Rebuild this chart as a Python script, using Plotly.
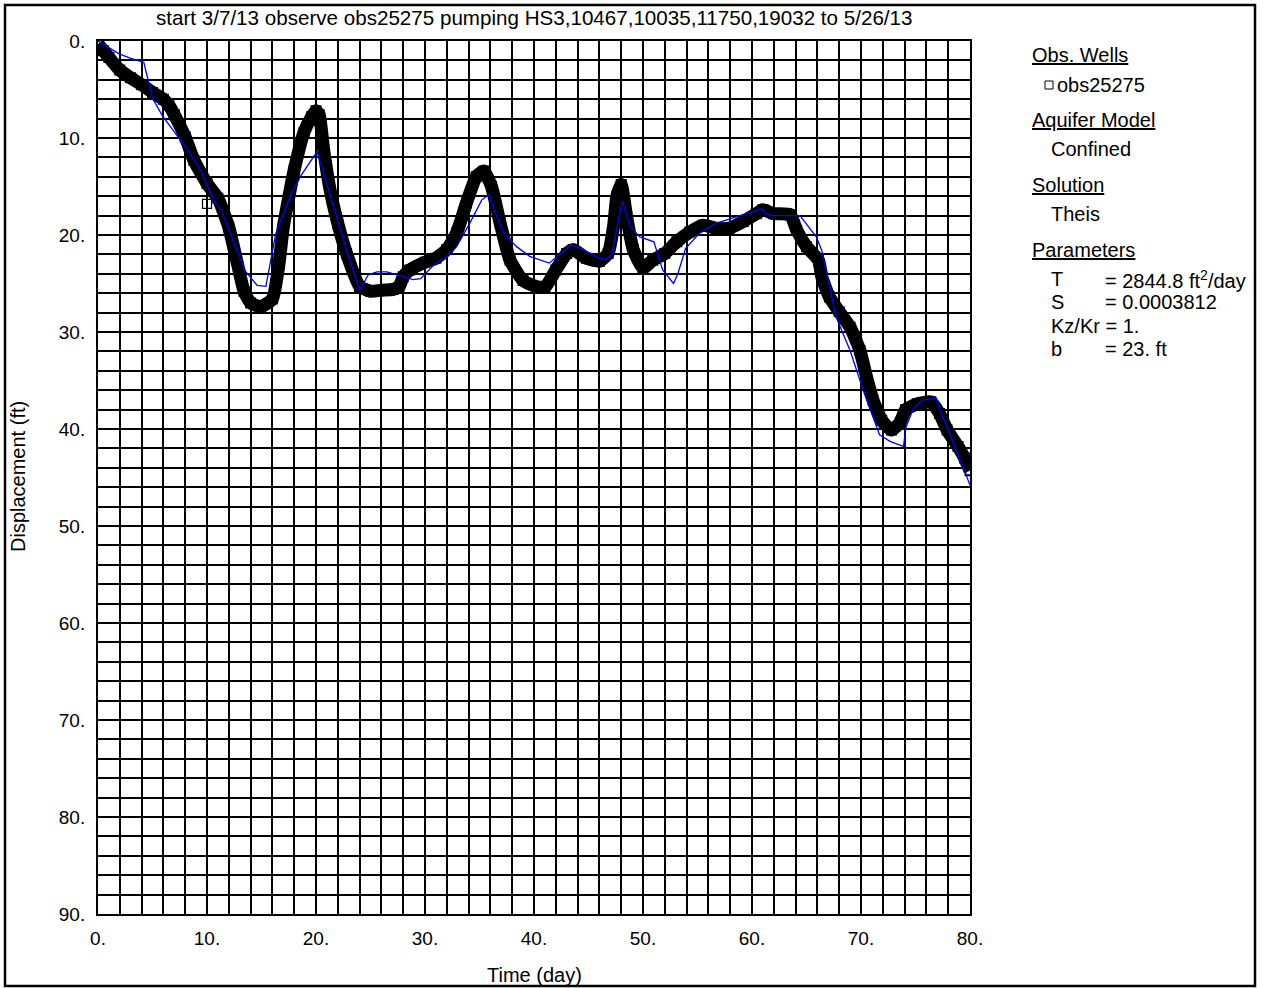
import plotly.graph_objects as go

# ---------------- data ----------------
obs_day = [0, 0.5, 1, 2, 3, 4, 5, 6, 6.5, 7, 8, 8.8, 10, 11, 12, 12.8, 13.4, 14, 14.9, 16,
           16.6, 17, 18, 18.9, 19.6, 20, 20.3, 20.7, 21.3, 22, 22.8, 24, 25, 26, 27.1, 27.6,
           28, 28.6, 30, 31, 32, 32.9, 33.8, 34.7, 35.4, 36.1, 36.9, 37.8, 39, 40.2, 41, 42,
           43, 43.6, 44.8, 46, 46.8, 47.3, 47.6, 48, 48.5, 49.1, 50, 50.9, 52, 53.1, 54.3,
           55.5, 56.7, 57.9, 59.2, 60.4, 61, 62, 63.5, 64.1, 65, 66.1, 66.4, 67.1, 68, 69,
           69.9, 70.5, 71.1, 71.9, 72.8, 73.6, 74.1, 75.2, 76.4, 77.2, 77.9, 78.9, 79.5, 80]
obs_disp = [0.3, 1.0, 1.7, 3.0, 3.8, 4.5, 5.3, 6.0, 6.6, 7.6, 9.9, 12.3, 14.7, 16.2, 19.2, 23.0, 25.8, 27.0, 27.4, 26.6,
            23.0, 19.2, 13.3, 9.4, 7.8, 7.2, 7.6, 11.2, 15.4, 18.8, 21.9, 25.3, 25.8, 25.7, 25.6, 25.4,
            24.3, 23.6, 22.8, 22.4, 21.5, 19.8, 16.7, 14.0, 13.4, 15.0, 18.8, 22.6, 24.7, 25.3, 25.4, 23.6,
            21.9, 21.5, 22.4, 22.7, 21.9, 19.1, 16.0, 14.8, 18.1, 21.5, 23.4, 22.6, 21.9, 20.7, 19.7,
            19.0, 19.3, 19.3, 18.6, 17.8, 17.4, 17.8, 17.9, 19.5, 21.2, 22.6, 24.3, 26.4, 27.9, 29.5,
            31.9, 34.6, 37.0, 39.1, 40.1, 39.3, 38.0, 37.4, 37.2, 38.4, 40.1, 41.8, 43.0, 44.3]
outlier_day = [10.0]
outlier_disp = [16.8]

model_day = [0, 1.9, 3, 4.2, 5, 5.9, 8.2, 9.4, 10.6, 11.4, 12.5, 13.5, 14.6, 15.4, 16.3, 17.7, 18.6, 20.1, 21, 22,
             23, 24, 24.8, 25.6, 26.5, 28.9, 29.6, 30.8, 32, 32.9, 34.1, 35.2, 35.9, 36.3, 37.2, 38.4, 39.6, 41.4, 43.4, 44.5,
             46, 46.6, 47.1, 48.1, 48.8, 49.7, 51, 51.8, 52.8, 53.2, 53.9, 55.2, 56.7, 58.6, 60.9, 61.2, 61.9, 64.4, 65.9, 66.4,
             67.7, 69, 70.2, 71.7, 72.7, 73.9, 74.1, 74.8, 75.7, 76.9, 77.2, 78, 78.7, 79.5, 80]
model_disp = [0, 1.3, 1.8, 2.2, 5.9, 7.7, 11.2, 13.3, 16.4, 17.7, 20.9, 23.7, 25.2, 25.3, 19.9, 15.8, 13.9, 11.4, 14.8, 18.6,
              22.3, 25.7, 24.1, 23.8, 23.8, 24.6, 24.5, 23.1, 22.2, 21.2, 18.8, 16.4, 15.8, 17.3, 19.8, 21.2, 22.2, 22.9, 21.0, 21.5,
              22.4, 22.5, 22.1, 16.5, 19.1, 20.2, 20.7, 23.6, 25.0, 24.0, 21.4, 19.8, 18.8, 18.1, 17.3, 17.8, 18.0, 18.0, 20.2, 21.6,
              28.4, 31.9, 36.0, 40.6, 41.3, 41.8, 39.9, 37.9, 37.0, 36.8, 38.0, 40.1, 42.2, 44.3, 45.8]

x_tick_vals = [0, 10, 20, 30, 40, 50, 60, 70, 80]
x_tick_text = ["0.", "10.", "20.", "30.", "40.", "50.", "60.", "70.", "80."]
y_tick_vals = [0, 10, 20, 30, 40, 50, 60, 70, 80, 90]
y_tick_text = ["0.", "10.", "20.", "30.", "40.", "50.", "60.", "70.", "80.", "90."]

title_text = "start 3/7/13 observe obs25275 pumping HS3,10467,10035,11750,19032 to 5/26/13"
x_title = "Time (day)"
y_title = "Displacement (ft)"

# ---------------- layout geometry ----------------
W, H = 1270, 988
L, R, T, B = 98, 300, 41, 74
PW, PH = W - L - R, H - T - B
FONT = "Liberation Sans, Arial, sans-serif"
FS_TICK = 19
FS = 20
FS_TITLE = 20.6


def px(xp):
    return (xp - L) / PW


def py(yp):
    return (H - B - yp) / PH


fig = go.Figure()

fig.add_trace(go.Scatter(
    x=obs_day, y=obs_disp, mode="lines+markers",
    line=dict(color="black", width=13, shape="spline", smoothing=0.5),
    marker=dict(symbol="square-open", size=9, color="black", line=dict(width=2, color="black")),
    showlegend=False))
fig.add_trace(go.Scatter(
    x=outlier_day, y=outlier_disp, mode="markers",
    marker=dict(symbol="square-open", size=9, color="black", line=dict(width=1.2, color="black")),
    showlegend=False))
fig.add_trace(go.Scatter(
    x=model_day, y=model_disp, mode="lines",
    line=dict(color="#0000ff", width=1.3),
    showlegend=False))

axis_common = dict(
    showline=True, linecolor="black", linewidth=2, mirror=True,
    showgrid=True, gridcolor="black", gridwidth=1.5,
    zeroline=False, ticks="", tickfont=dict(family=FONT, size=FS_TICK, color="black"),
)

fig.update_xaxes(range=[0, 80], tickvals=x_tick_vals, ticktext=x_tick_text,
                 minor=dict(dtick=2, showgrid=True, gridcolor="black", gridwidth=1.5),
                 ticklabelstandoff=6, **axis_common)
fig.update_yaxes(range=[90, 0], tickvals=y_tick_vals, ticktext=y_tick_text,
                 minor=dict(dtick=2, showgrid=True, gridcolor="black", gridwidth=1.5),
                 ticklabelstandoff=7, **axis_common)

ann = []
ann.append(dict(text=title_text, x=px((L + W - R) / 2), y=py(17), xanchor="center", yanchor="middle",
                font=dict(family=FONT, size=FS_TITLE, color="black")))
ann.append(dict(text=x_title, x=px((L + W - R) / 2), y=py(975), xanchor="center", yanchor="middle"))
ann.append(dict(text=y_title, x=px(18), y=py(477), xanchor="center", yanchor="middle", textangle=-90))

EQ_X = 1104
legend_items = [
    ("<u>Obs. Wells</u>", 1031, 55),
    ("obs25275", 1056, 85),
    ("<u>Aquifer Model</u>", 1031, 120),
    ("Confined", 1050, 149),
    ("<u>Solution</u>", 1031, 185),
    ("Theis", 1050, 214),
    ("<u>Parameters</u>", 1031, 250),
    ("T", 1050, 279),
    ("= 2844.8 ft<sup>2</sup>/day", EQ_X, 279),
    ("S", 1050, 302),
    ("= 0.0003812", EQ_X, 302),
    ("Kz/Kr = 1.", 1050, 326),
    ("b", 1050, 349),
    ("= 23. ft", EQ_X, 349),
]
for txt, xp, yp in legend_items:
    ann.append(dict(text=txt, x=px(xp), y=py(yp), xanchor="left", yanchor="middle", borderpad=0))

for a in ann:
    a.update(xref="paper", yref="paper", showarrow=False)
    if "font" not in a:
        a["font"] = dict(family=FONT, size=FS, color="black")

shapes = [
    # outer frame
    dict(type="rect", xref="paper", yref="paper", x0=px(5), x1=px(1255), y0=py(5), y1=py(986),
         line=dict(color="black", width=2.5), fillcolor="rgba(0,0,0,0)", layer="above"),
    # legend marker square
    dict(type="rect", xref="paper", yref="paper", x0=px(1045), x1=px(1053), y0=py(81), y1=py(89),
         line=dict(color="black", width=1), fillcolor="rgba(0,0,0,0)", layer="above"),
]

fig.update_layout(
    width=W, height=H, autosize=False,
    margin=dict(l=L, r=R, t=T, b=B, pad=0),
    paper_bgcolor="white", plot_bgcolor="white",
    annotations=ann, shapes=shapes, showlegend=False,
    font=dict(family=FONT, size=FS, color="black"),
)

fig.write_html("out.html",
               config={"displayModeBar": False},
               post_script="document.body.style.margin='0';document.body.style.padding='0';"
                           "document.body.style.overflow='hidden';")
